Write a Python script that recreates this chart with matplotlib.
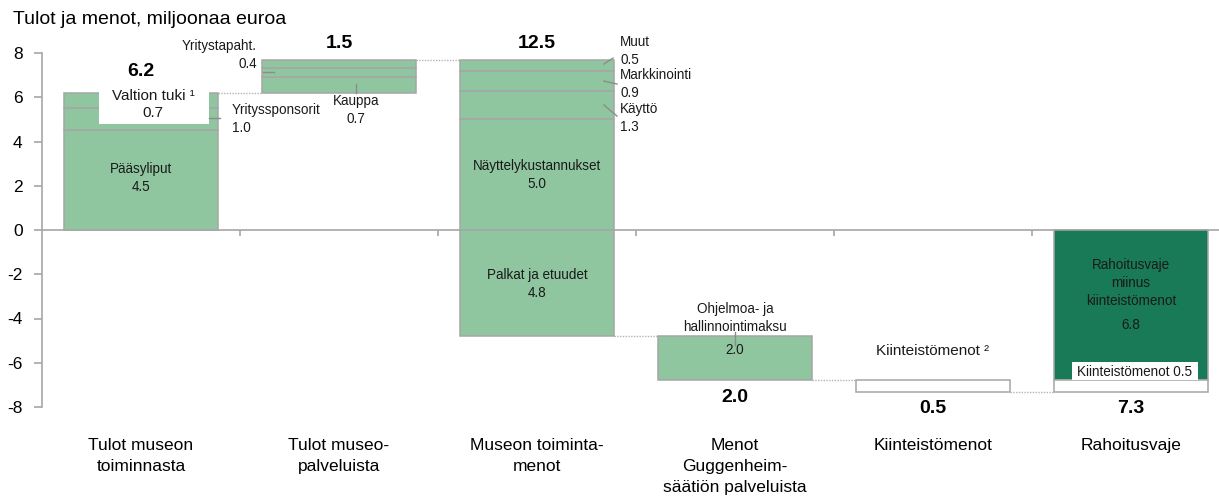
import matplotlib
matplotlib.use("Agg")
import matplotlib.pyplot as plt
from matplotlib.patches import Rectangle

plt.rcParams['font.family'] = ['Liberation Sans', 'DejaVu Sans']
plt.rcParams['axes.unicode_minus'] = False

# ---------------- data ----------------
categories = ["Tulot museon\ntoiminnasta", "Tulot museo-\npalveluista",
              "Museon toiminta-\nmenot", "Menot\nGuggenheim-\nsäätiön palveluista",
              "Kiinteistömenot", "Rahoitusvaje"]
totals = [6.2, 1.5, 12.5, 2.0, 0.5, 7.3]

# bar 1 (income, stacked upward from 0)
museum_income = [4.5, 1.0, 0.7]
museum_income_names = ["Pääsyliput", "Yrityssponsorit", "Valtion tuki \u00b9"]
# bar 2 (income, stacked upward)
service_income = [0.7, 0.4, 0.4]
service_income_names = ["Kauppa", "Yritystapaht.", ""]
# bar 3 (expenses, stacked downward from top)
operating_costs = [0.5, 0.9, 1.3, 5.0, 4.8]
operating_cost_names = ["Muut", "Markkinointi", "Käyttö", "Näyttelykustannukset", "Palkat ja etuudet"]
# bar 4
guggenheim_fee = [2.0]
guggenheim_fee_names = ["Ohjelmoa- ja\nhallinnointimaksu"]
# bar 5
property_costs = [0.5]
# bar 6 (funding gap)
funding_gap = [6.8, 0.5]
funding_gap_names = ["Rahoitusvaje\nmiinus\nkiinteistömenot", "Kiinteistömenot"]

ytick_values = [8, 6, 4, 2, 0, -2, -4, -6, -8]

# ---------------- style ----------------
LIGHT = "#8fc6a0"
DARK = "#187a56"
EDGE = "#a6a6a6"
W = 0.773
LW = 1.1
TXT = "#1a1a1a"

fig = plt.figure(figsize=(12.19, 5.04), dpi=100)
ax = fig.add_axes([42 / 1219, 97 / 504, 1188 / 1219, 354 / 504])
ax.set_xlim(-0.5, 5.5)
ax.set_ylim(-8, 8)

def seg(x, bottom, h, color=LIGHT, z=2):
    ax.bar(x, h, W, bottom=bottom, color=color, edgecolor=EDGE, linewidth=LW, zorder=z)

# bar 1
b = 0.0
for v in museum_income:
    seg(0, b, v)
    b += v
top1 = b
# bar 2
b = top1
for v in service_income:
    seg(1, b, v)
    b += v
top2 = b
# bar 3 downward
t = top2
for v in operating_costs:
    seg(2, t - v, v)
    t -= v
bot3 = t
# bar 4
t = bot3
for v in guggenheim_fee:
    seg(3, t - v, v)
    t -= v
bot4 = t
# bar 5
t = bot4
for v in property_costs:
    seg(4, t - v, v, color="white")
    t -= v
bot5 = t
# bar 6
seg(5, -funding_gap[0], funding_gap[0], color=DARK)
seg(5, -funding_gap[0] - funding_gap[1], funding_gap[1], color="white")

# connectors
dot = dict(color="#b5b5b5", linewidth=1.0, linestyle=(0, (1, 1)), zorder=1)
for i, y in enumerate([top1, top2, bot3, bot4, bot5]):
    ax.plot([i + W / 2, i + 1 - W / 2], [y, y], **dot)

# axes styling
for s in ["top", "right", "bottom"]:
    ax.spines[s].set_visible(False)
ax.spines["left"].set_color(EDGE)
ax.spines["left"].set_linewidth(1.2)
ax.axhline(0, color=EDGE, linewidth=1.2, zorder=1)
ax.vlines([i + 0.5 for i in range(len(categories) - 1)], -0.27, 0, color=EDGE, linewidth=1.2, zorder=1)
ax.set_yticks(ytick_values)
ax.set_yticklabels([str(v) for v in ytick_values])
ax.tick_params(axis="y", colors=EDGE, labelcolor="black", length=6, width=1.2, pad=8, labelsize=12.5)
ax.set_xticks([])

# title
fig.text(13 / 1219, 1 - 20 / 504, "Tulot ja menot, miljoonaa euroa", fontsize=14, va="center", ha="left")

# category labels
for i, c in enumerate(categories):
    ax.text(i, -9.4, c, ha="center", va="top", fontsize=12.5, linespacing=1.5, clip_on=False)

# totals
bold = dict(fontsize=14, fontweight="bold", ha="center", va="center", clip_on=False)
ax.text(0, top1 + 0.95, f"{totals[0]:.1f}", **bold)
ax.text(1, top2 + 0.75, f"{totals[1]:.1f}", **bold)
ax.text(2, top2 + 0.75, f"{totals[2]:.1f}", **bold)
ax.text(3, bot4 - 0.75, f"{totals[3]:.1f}", **bold)
ax.text(4, bot5 - 0.75, f"{totals[4]:.1f}", **bold)
ax.text(5, bot5 - 0.75, f"{totals[5]:.1f}", **bold)

sm = dict(fontsize=9.75, linespacing=1.35, color=TXT, zorder=6)
lead = dict(color="#8c8c8c", linewidth=1.0, zorder=5)

# bar 1 labels
ax.text(0, museum_income[0] / 2 + 0.1, f"{museum_income_names[0]}\n{museum_income[0]:.1f}", ha="center", va="center", **sm)
ax.add_patch(Rectangle((-0.212, 4.8), 0.555, top1 - 4.8 + 0.08, facecolor="white", edgecolor="none", zorder=4))
ax.text(0.06, 5.67, f"{museum_income_names[2]}\n{museum_income[2]:.1f}", ha="center", va="center",
        fontsize=11, linespacing=1.3, color=TXT, zorder=6)
ax.text(0.46, 5.02, f"{museum_income_names[1]}\n{museum_income[1]:.1f}", ha="left", va="center", **sm)
ax.plot([0.343, 0.40], [5.05, 5.05], **lead)

# bar 2 labels
ax.text(0.586, 7.9, f"{service_income_names[1]}\n{service_income[1]:.1f}", ha="right", va="center", **sm)
ax.plot([0.616, 0.672], [7.15, 7.15], **lead)
ax.text(1.086, 5.42, f"{service_income_names[0]}\n{service_income[0]:.1f}", ha="center", va="center", **sm)
ax.plot([1.086, 1.086], [6.62, 6.19], **lead)

# bar 3 labels
ax.text(2.42, 8.09, f"{operating_cost_names[0]}\n{operating_costs[0]:.1f}", ha="left", va="center", **sm)
ax.plot([2.338, 2.384], [7.5, 7.77], **lead)
ax.text(2.42, 6.6, f"{operating_cost_names[1]}\n{operating_costs[1]:.1f}", ha="left", va="center", **sm)
ax.plot([2.338, 2.404], [6.73, 6.6], **lead)
ax.text(2.42, 5.08, f"{operating_cost_names[2]}\n{operating_costs[2]:.1f}", ha="left", va="center", **sm)
ax.plot([2.338, 2.404], [5.65, 5.15], **lead)
ax.text(2, 2.49, f"{operating_cost_names[3]}\n{operating_costs[3]:.1f}", ha="center", va="center", **sm)
ax.text(2, -2.44, f"{operating_cost_names[4]}\n{operating_costs[4]:.1f}", ha="center", va="center", **sm)

# bar 4 labels
ax.text(3, -3.98, guggenheim_fee_names[0], ha="center", va="center", **sm)
ax.plot([3, 3], [-4.62, -5.2], **lead)
ax.text(3, -5.42, f"{guggenheim_fee[0]:.1f}", ha="center", va="center", **sm)

# bar 5 label
ax.text(4, -5.47, "Kiinteistömenot \u00b2", ha="center", va="center", fontsize=11, color=TXT)

# bar 6 labels
ax.text(5, -2.4, funding_gap_names[0], ha="center", va="center", **sm)
ax.text(5, -4.3, f"{funding_gap[0]:.1f}", ha="center", va="center", **sm)
ax.add_patch(Rectangle((4.702, -funding_gap[0]), 0.636, 0.85, facecolor="white", edgecolor="none", zorder=4))
ax.text(5.02, -6.42, f"{funding_gap_names[1]} {funding_gap[1]:.1f}", ha="center", va="center", **sm)

fig.savefig("out.png", dpi=100)
